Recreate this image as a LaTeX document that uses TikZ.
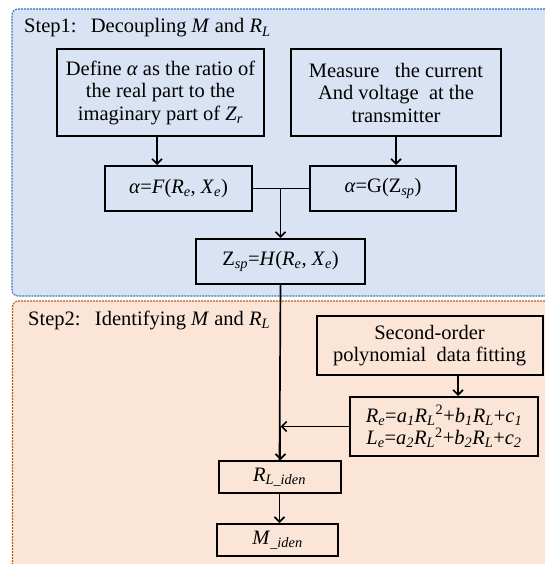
\documentclass[tikz,border=0pt]{standalone}
\usepackage{fontspec}
\setmainfont{Liberation Serif}
\usetikzlibrary{arrows.meta}
\definecolor{bluefill}{HTML}{DAE3F3}
\definecolor{blueline}{HTML}{2E75B6}
\definecolor{orfill}{HTML}{FBE5D6}
\definecolor{orline}{HTML}{C55A11}
\newcommand{\sbi}[1]{\textsubscript{\textit{#1}}}
\begin{document}
\begin{tikzpicture}[x=1pt,y=-1pt,
  flowbox/.style={draw=black,line width=2pt,inner sep=0pt,align=center,
    font=\fontsize{20.5}{22.5}\selectfont},
  conn/.style={line width=1.7pt,draw=black},
  arr/.style={conn,-{Straight Barb[length=5pt,width=10pt,line width=1.6pt]}},
  lbl/.style={font=\fontsize{20.5}{22.5}\selectfont,inner sep=0pt,anchor=base west},
  region/.style={line width=1.1pt,dash pattern=on 2pt off 1pt,rounded corners=6pt}]
\clip (0,0) rectangle (545,564);
\useasboundingbox (0,0) rectangle (545,564);
% regions
\fill[bluefill,rounded corners=6pt] (12,9) rectangle (560,296);
\draw[region,draw=blueline] (560,9) -- (12,9) -- (12,296) -- (560,296);
\fill[orfill,rounded corners=6pt] (12.5,301) rectangle (560,600);
\draw[region,draw=orline] (560,301) -- (12.5,301) -- (12.5,600);
% labels
\node[lbl] (s1) at (24,33) {Step1:\hspace{0.7em}Decoupling \textit{M} and \textit{R}\sbi{L}};
\node[lbl] (s2) at (28,325) {Step2:\hspace{0.7em}Identifying \textit{M} and \textit{R}\sbi{L}};
% boxes
\node[flowbox,minimum width=207pt,minimum height=87pt] (A) at (160.5,92.5)
  {Define \textit{α} as the ratio of\\the real part to the\\imaginary part of \textit{Z}\sbi{r}};
\node[flowbox,minimum width=210pt,minimum height=87pt] (B) at (396,92.5)
  {Measure\ \ \ the current\\And voltage\ \ at the\\transmitter};
\node[flowbox,minimum width=147pt,minimum height=45pt] (C) at (178.5,188.5)
  {\textit{α}=\textit{F}(\textit{R}\sbi{e}, \textit{X}\sbi{e})};
\node[flowbox,minimum width=146pt,minimum height=45pt] (D) at (383,188.5)
  {\textit{α}=G(Z\sbi{sp})};
\node[flowbox,minimum width=169pt,minimum height=45pt] (E) at (280.5,261.5)
  {Z\sbi{sp}=\textit{H}(\textit{R}\sbi{e}, \textit{X}\sbi{e})};
\node[flowbox,minimum width=226pt,minimum height=59pt] (F) at (429.5,345.5)
  {Second-order\\polynomial\ \ data fitting};
\node[flowbox,minimum width=188pt,minimum height=59pt] (G) at (444,426.5)
  {\textit{R}\sbi{e}=\textit{a}\sbi{1}\textit{R}\sbi{L}\textsuperscript{2}+\textit{b}\sbi{1}\textit{R}\sbi{L}+\textit{c}\sbi{1}\\
   \textit{L}\sbi{e}=\textit{a}\sbi{2}\textit{R}\sbi{L}\textsuperscript{2}+\textit{b}\sbi{2}\textit{R}\sbi{L}+\textit{c}\sbi{2}};
\node[flowbox,minimum width=122pt,minimum height=32pt] (R) at (279.5,477)
  {\textit{R}\sbi{L\_iden}};
\node[flowbox,minimum width=121pt,minimum height=32pt] (M) at (277.5,540)
  {\textit{M}\sbi{\_iden}};
% connectors
\draw[arr] ([xshift=-3.5pt]A.south) -- ([xshift=-3.5pt]A.south |- C.north);
\draw[arr] (B.south) -- (B.south |- D.north);
\draw[conn] (C.east) -- (D.west);
\coordinate (J) at (E.north |- C.east);
\draw[arr] (J) -- (E.north);
\draw[conn] (E.south) -- (R.north);
\coordinate (K) at (E.south |- G.west);
\draw[arr] (G.west) -- (K);
\draw[arr] (K) -- (K |- R.north);
\coordinate (fg) at ([xshift=28.5pt]F.south);
\draw[arr] (fg) -- (fg |- G.north);
\draw[arr] (R.south) -- (R.south |- M.north);
\end{tikzpicture}
\end{document}
